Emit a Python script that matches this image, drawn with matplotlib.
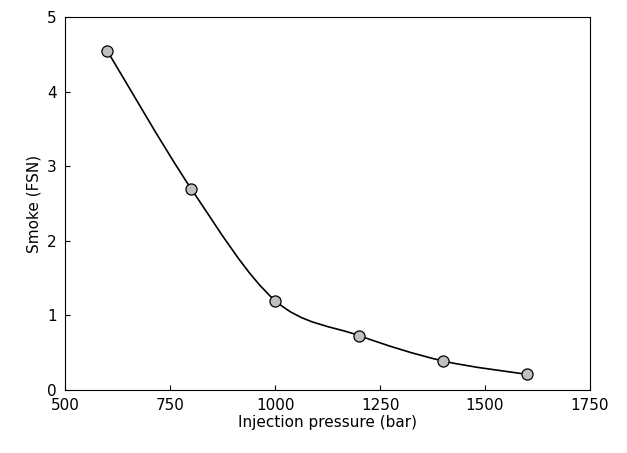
import matplotlib.pyplot as plt
import numpy as np
from matplotlib.path import Path
from matplotlib.patches import PathPatch

pressure = [600, 800, 1000, 1200, 1400, 1600]
smoke = [4.55, 2.7, 1.2, 0.73, 0.39, 0.21]

fig = plt.figure(figsize=(6.27, 4.53), dpi=100)
ax = fig.add_axes([0.104, 0.139, 0.837, 0.823])

# smooth curve through the points (Catmull-Rom as cubic Bezier segments)
pts = np.column_stack([pressure, smoke]).astype(float)
verts = [tuple(pts[0])]
codes = [Path.MOVETO]
for i in range(len(pts) - 1):
    p0 = pts[i - 1] if i > 0 else pts[i]
    p1, p2 = pts[i], pts[i + 1]
    p3 = pts[i + 2] if i + 2 < len(pts) else pts[i + 1]
    c1 = p1 + (p2 - p0) / 6
    c2 = p2 - (p3 - p1) / 6
    verts += [tuple(c1), tuple(c2), tuple(p2)]
    codes += [Path.CURVE4] * 3
ax.add_patch(PathPatch(Path(verts, codes), facecolor="none", edgecolor="black", lw=1.2))

ax.plot(pressure, smoke, "o", ms=8, mfc="#c0c0c0", mec="black", mew=0.9, zorder=3)

ax.set_xlim(500, 1750)
ax.set_ylim(0, 5)
ax.set_xticks([500, 750, 1000, 1250, 1500, 1750])
ax.set_yticks([0, 1, 2, 3, 4, 5])
ax.tick_params(direction="in", labelsize=11)
ax.tick_params(axis="x", pad=6)
ax.tick_params(axis="y", pad=6)
ax.set_xlabel("Injection pressure (bar)", fontsize=11, labelpad=1)
ax.set_ylabel("Smoke (FSN)", fontsize=11)

fig.savefig("out.png", dpi=100)
